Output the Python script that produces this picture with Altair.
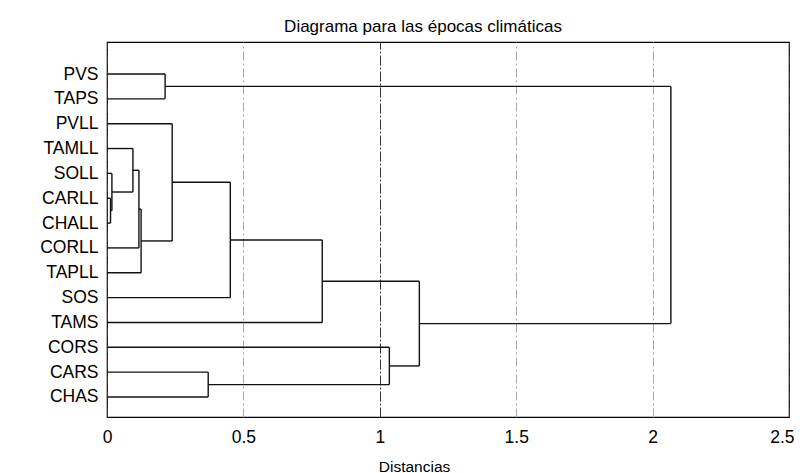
import altair as alt
import pandas as pd

# Leaves, top to bottom
leaves = ["PVS", "TAPS", "PVLL", "TAMLL", "SOLL", "CARLL", "CHALL",
          "CORLL", "TAPLL", "SOS", "TAMS", "CORS", "CARS", "CHAS"]

# Merge steps: cluster k (c1..c13) joins left and right at the given distance
merge_left = ["CARLL", "SOLL", "TAMLL", "c3", "c4", "PVLL", "PVS",
              "CARS", "c6", "c9", "CORS", "c10", "c7"]
merge_right = ["CHALL", "c1", "c2", "CORLL", "TAPLL", "c5", "TAPS",
               "CHAS", "SOS", "TAMS", "c8", "c11", "c12"]
merge_height = [0.013, 0.018, 0.095, 0.117, 0.125, 0.239, 0.213,
                0.371, 0.452, 0.789, 1.035, 1.145, 2.067]

x_ticks = [0, 0.5, 1, 1.5, 2, 2.5]

# Build the dendrogram segments from the merge table
pos = {name: (0.0, float(i)) for i, name in enumerate(leaves)}
rows = []
for k, (a, b, h) in enumerate(zip(merge_left, merge_right, merge_height), start=1):
    xa, ya = pos[a]
    xb, yb = pos[b]
    rows.append({"x": xa, "x2": h, "y": ya, "y2": ya})
    rows.append({"x": xb, "x2": h, "y": yb, "y2": yb})
    rows.append({"x": h, "x2": h, "y": ya, "y2": yb})
    pos[f"c{k}"] = (h, (ya + yb) / 2)
seg = pd.DataFrame(rows)

FONT = "Liberation Sans"
label_expr = "[" + ",".join(f"'{n}'" for n in leaves) + "][datum.value]"

light = "datum.value == 0.5 || datum.value == 1.5 || datum.value == 2"
last = "datum.value == 2.5"

x_enc = alt.X(
    "x:Q",
    scale=alt.Scale(domain=[0, 2.5], nice=False, zero=False),
    axis=alt.Axis(
        values=x_ticks, format="~g", title="Distancias",
        titleFont=FONT, titleFontSize=15.5, titleFontWeight="normal", titleColor="black",
        titleX=307, titleY=54, titleBaseline="alphabetic", titleAnchor="middle", titleAlign="center",
        labelFont=FONT, labelFontSize=17.5, labelColor="black", labelPadding=11,
        labelFlush=False, labelOverlap=False, labelBound=False,
        labelAlign={"condition": {"test": last, "value": "right"}, "value": "center"},
        labelOffset={"condition": {"test": last, "value": 5}, "value": 0},
        ticks=False, domain=False, grid=True,
        gridColor={"condition": {"test": light, "value": "#a8a8a8"}, "value": "#333333"},
        gridDash={"condition": {"test": light, "value": [9, 3, 2, 3]}, "value": [10, 2, 2, 2]},
        gridWidth=1,
    ),
)
y_enc = alt.Y(
    "y:Q",
    scale=alt.Scale(domain=[-1.288, 13.805], reverse=True, nice=False, zero=False),
    axis=alt.Axis(
        values=list(range(len(leaves))), labelExpr=label_expr, title=None,
        labelFont=FONT, labelFontSize=17.5, labelColor="black", labelPadding=9,
        labelOverlap=False, labelFlush=False, labelBound=False,
        ticks=False, domain=False, grid=False,
    ),
)

chart = alt.Chart(seg).mark_rule(color="#111111", strokeWidth=1.4).encode(
    x=x_enc, x2="x2:Q", y=y_enc, y2="y2:Q"
).properties(
    width=682,
    height=375,
    padding={"left": 99, "top": 34, "right": 5, "bottom": 56},
    autosize=alt.AutoSizeParams(type="none"),
    title=alt.TitleParams(
        "Diagrama para las épocas climáticas",
        font=FONT, fontSize=17, fontWeight="normal", color="black",
        anchor="middle", dx=-25, offset=6,
    ),
).configure_view(stroke="black", strokeWidth=1.2)

chart.save("out.html", embed_options={"renderer": "svg", "actions": False})
